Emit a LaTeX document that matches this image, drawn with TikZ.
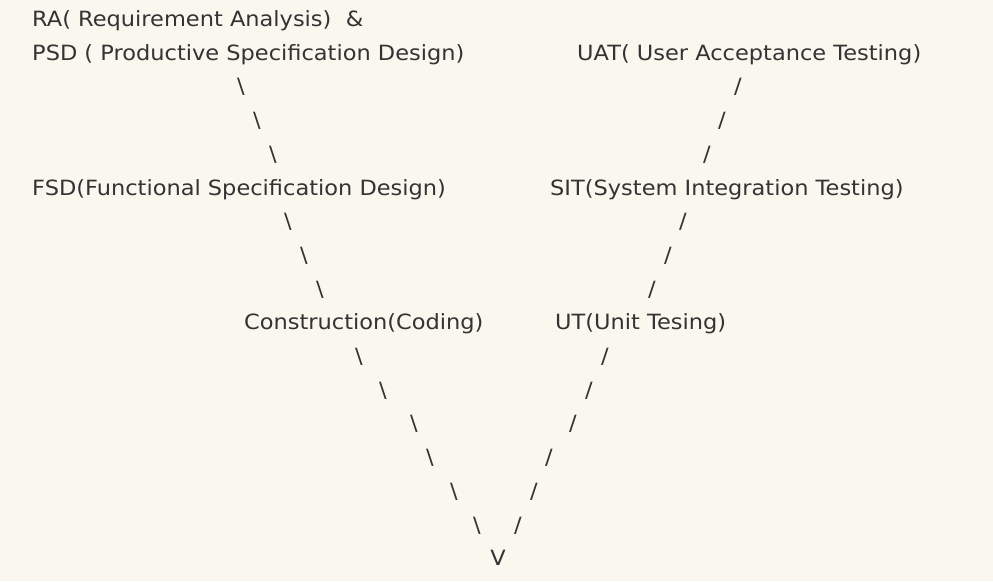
\documentclass[tikz,border=0pt]{standalone}
\usepackage{fontspec}
\setmainfont[FakeStretch=1.071]{DejaVu Sans}
\definecolor{vpaper}{HTML}{FAF7EF}
\definecolor{vink}{HTML}{333333}
\tikzset{
  vlabel/.style={anchor=base west,inner sep=0pt,text=vink,font=\fontsize{21}{24}\selectfont},
  vslash/.style={anchor=base,inner sep=0pt,text=vink,font=\fontsize{21}{24}\selectfont}
}
\begin{document}
\begin{tikzpicture}[x=1pt,y=-1pt]
    \fill[vpaper] (0,0) rectangle (993,581);
    \useasboundingbox (0,0) rectangle (993,581);

    % left leg: requirement side
    \node[vlabel] (ra)  at (32,26.5) {RA( Requirement Analysis)~~\&};
    \node[vlabel] (psd) at (32,60.2) {PSD ( Productive Specification Design)};
    \node[vslash] (l1) at (241,93.9)  {\textbackslash};
    \node[vslash] (l2) at (257,127.6) {\textbackslash};
    \node[vslash] (l3) at (273,161.3) {\textbackslash};
    \node[vlabel] (fsd) at (32,195) {FSD(Functional Specification Design)};
    \node[vslash] (l4) at (288,228.7) {\textbackslash};
    \node[vslash] (l5) at (304,262.4) {\textbackslash};
    \node[vslash] (l6) at (320,296.1) {\textbackslash};
    \node[vlabel] (code) at (244,329.8) {Construction(Coding)};
    \node[vslash] (l7)  at (359,363.5) {\textbackslash};
    \node[vslash] (l8)  at (383,397.2) {\textbackslash};
    \node[vslash] (l9)  at (414,430.9) {\textbackslash};
    \node[vslash] (l10) at (430,464.6) {\textbackslash};
    \node[vslash] (l11) at (454,498.3) {\textbackslash};
    \node[vslash] (l12) at (477,532)   {\textbackslash};

    % bottom of the V
    \node[vslash] (vtip) at (498,565.7) {V};

    % right leg: testing side
    \node[vslash] (r12) at (518,532)   {/};
    \node[vslash] (r11) at (534,498.3) {/};
    \node[vslash] (r10) at (549,464.6) {/};
    \node[vslash] (r9)  at (573,430.9) {/};
    \node[vslash] (r8)  at (589,397.2) {/};
    \node[vslash] (r7)  at (605,363.5) {/};
    \node[vlabel] (ut)  at (555,329.8) {UT(Unit Tesing)};
    \node[vslash] (r6) at (652,296.1) {/};
    \node[vslash] (r5) at (668,262.4) {/};
    \node[vslash] (r4) at (683,228.7) {/};
    \node[vlabel] (sit) at (550,195) {SIT(System Integration Testing)};
    \node[vslash] (r3) at (707,161.3) {/};
    \node[vslash] (r2) at (722,127.6) {/};
    \node[vslash] (r1) at (738,93.9)  {/};
    \node[vlabel] (uat) at (577,60.2) {UAT( User Acceptance Testing)};
\end{tikzpicture}
\end{document}
